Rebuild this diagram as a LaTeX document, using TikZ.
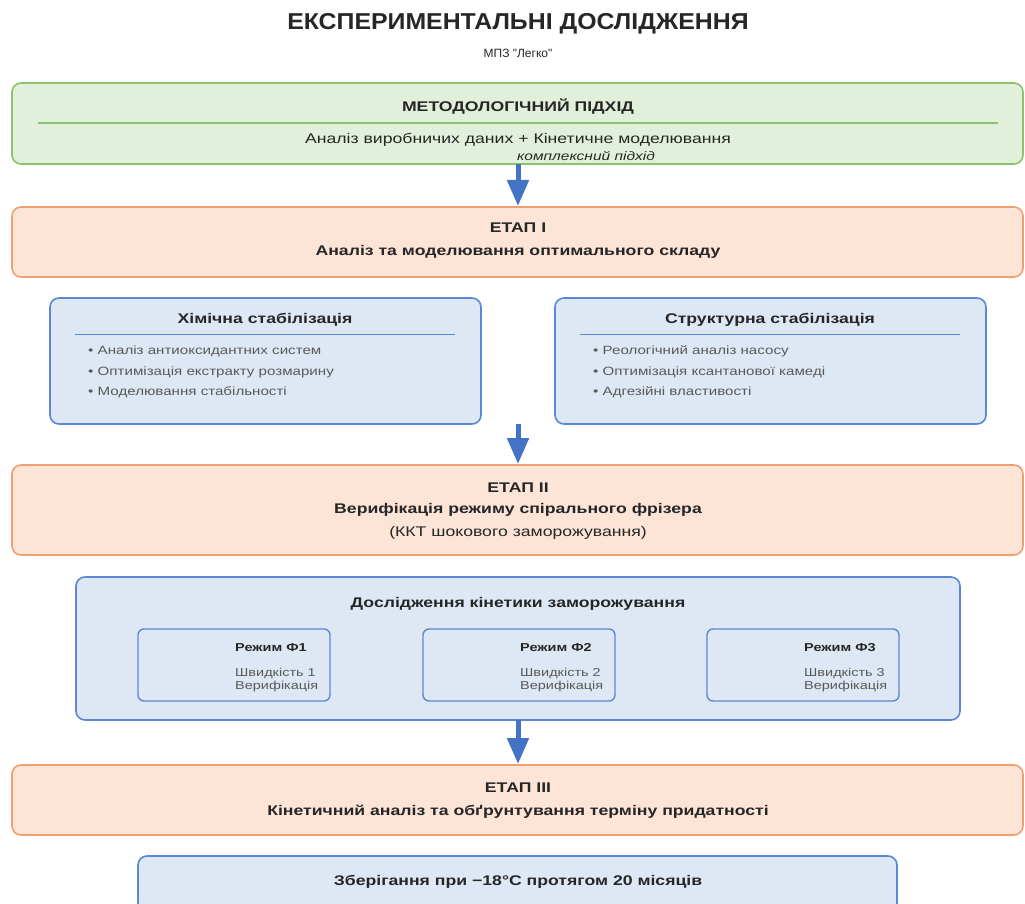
\documentclass[tikz,border=0pt]{standalone}
\usepackage{fontspec}
\setmainfont[FakeStretch=1.26]{Liberation Sans}
\newfontfamily\titlefont[FakeStretch=1.08]{Liberation Sans}
\newfontfamily\plainfont{Liberation Sans}
\usetikzlibrary{arrows.meta}
\definecolor{txt}{HTML}{262626}
\definecolor{gray1}{HTML}{595959}
\definecolor{gfill}{HTML}{E2EFDA}
\definecolor{gdraw}{HTML}{8CC26B}
\definecolor{ofill}{HTML}{FCE4D6}
\definecolor{odraw}{HTML}{F0A070}
\definecolor{bfill}{HTML}{DEE8F5}
\definecolor{bdraw}{HTML}{5B87D6}
\definecolor{arr}{HTML}{4472C4}
\tikzset{
  gbox/.style={draw=gdraw,fill=gfill,line width=1.6pt,rounded corners=9pt},
  obox/.style={draw=odraw,fill=ofill,line width=1.6pt,rounded corners=9pt},
  bbox/.style={draw=bdraw,fill=bfill,line width=1.6pt,rounded corners=9pt},
  sbox/.style={draw=bdraw,fill=bfill,line width=1.4pt,rounded corners=6pt},
  flow/.style={draw=arr,line width=5pt,-{Triangle[length=26pt,width=21pt]}},
  t/.style={text=txt,inner sep=0pt,anchor=center},
}
\begin{document}
\begin{tikzpicture}[x=1pt,y=-1pt]
\useasboundingbox (0,0) rectangle (1025,904);
\node[t,font=\fontsize{23}{25}\selectfont\titlefont\bfseries] (title) at (518,24) {ЕКСПЕРИМЕНТАЛЬНІ ДОСЛІДЖЕННЯ};
\node[t,font=\fontsize{12}{14}\selectfont\plainfont] (sub) at (518,53) {МПЗ "Легко"};
% methodology
\draw[gbox] (12,83) rectangle (1023,164);
\coordinate (m) at (518,164);
\node[t,font=\fontsize{14}{16}\selectfont\bfseries] (mh) at (518,107) {МЕТОДОЛОГІЧНИЙ ПІДХІД};
\draw[gdraw,line width=1.6pt] (38,123) -- (998,123);
\node[t,font=\fontsize{14}{16}\selectfont] (ma) at (518,140) {Аналіз виробничих даних + Кінетичне моделювання};
\node[t,font=\fontsize{12.3}{14}\selectfont\itshape] (mc) at (586,156) {комплексний підхід};
% etap I
\draw[obox] (12,207) rectangle (1023,277);
\coordinate (e1t) at (518,206);
\node[t,font=\fontsize{14}{16}\selectfont\bfseries] at (518,228) {ЕТАП І};
\node[t,font=\fontsize{14}{16}\selectfont\bfseries] at (518,252) {Аналіз та моделювання оптимального складу};
% chem / struct
\draw[bbox] (50,298) rectangle (481,424);
\node[t,font=\fontsize{14}{16}\selectfont\bfseries] at (265,320) {Хімічна стабілізація};
\draw[bdraw,line width=1pt] (75,334) -- (455,334);
\begin{scope}[every node/.style={t,anchor=west,text=gray1,font=\fontsize{12}{14}\selectfont}]
\node at (88,351) {• Аналіз антиоксидантних систем};
\node at (88,372) {• Оптимізація екстракту розмарину};
\node at (88,392) {• Моделювання стабільності};
\end{scope}
\draw[bbox] (555,298) rectangle (986,424);
\node[t,font=\fontsize{14}{16}\selectfont\bfseries] at (770,320) {Структурна стабілізація};
\draw[bdraw,line width=1pt] (580,334) -- (960,334);
\begin{scope}[every node/.style={t,anchor=west,text=gray1,font=\fontsize{12}{14}\selectfont}]
\node at (593,351) {• Реологічний аналіз насосу};
\node at (593,372) {• Оптимізація ксантанової камеді};
\node at (593,392) {• Адгезійні властивості};
\end{scope}
\coordinate (cb) at (518,424);
\coordinate (e2t) at (518,464);
% etap II
\draw[obox] (12,465) rectangle (1023,555);
\node[t,font=\fontsize{14}{16}\selectfont\bfseries] at (518,488) {ЕТАП ІІ};
\node[t,font=\fontsize{14}{16}\selectfont\bfseries] at (518,510) {Верифікація режиму спірального фрізера};
\node[t,font=\fontsize{14}{16}\selectfont] at (518,533) {(ККТ шокового заморожування)};
% kinetics
\draw[bbox] (76,577) rectangle (960,720);
\node[t,font=\fontsize{14}{16}\selectfont\bfseries] at (518,604) {Дослідження кінетики заморожування};
\foreach \x/\n in {138/1,423/2,707/3}{
  \draw[sbox] (\x,629) rectangle (\x+192,701);
  \node[t,anchor=west,font=\fontsize{11.5}{14}\selectfont\bfseries] at (\x+97,648) {Режим Ф\n};
  \node[t,anchor=west,text=gray1,font=\fontsize{11.5}{14}\selectfont] at (\x+97,673) {Швидкість \n};
  \node[t,anchor=west,text=gray1,font=\fontsize{11.5}{14}\selectfont] at (\x+97,687) {Верифікація};
}
\coordinate (kb) at (518,720);
\coordinate (e3t) at (518,764);
% etap III
\draw[obox] (12,765) rectangle (1023,835);
\node[t,font=\fontsize{14}{16}\selectfont\bfseries] at (518,788) {ЕТАП ІІІ};
\node[t,font=\fontsize{14}{16}\selectfont\bfseries] at (518,812) {Кінетичний аналіз та обґрунтування терміну придатності};
% storage
\draw[bbox] (138,856) rectangle (897,912);
\node[t,font=\fontsize{14}{16}\selectfont\bfseries] at (518,882) {Зберігання при −18°C протягом 20 місяців};
% arrows
\draw[flow] (m) -- (e1t);
\draw[flow] (cb) -- (e2t);
\draw[flow] (kb) -- (e3t);
\end{tikzpicture}
\end{document}
